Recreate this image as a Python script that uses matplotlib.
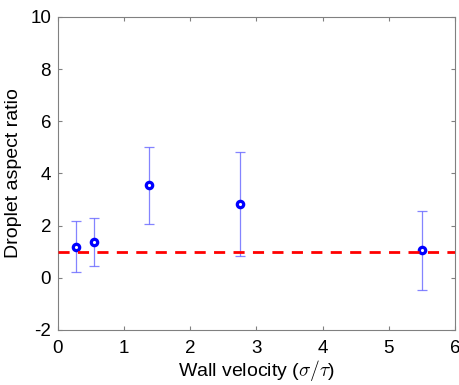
import numpy as np
import matplotlib.pyplot as plt

# wall velocity and droplet aspect ratio
wall_velocity = [0.275, 0.55, 1.375, 2.75, 5.5]
aspect_ratio = [1.19, 1.39, 3.54, 2.83, 1.05]
err_low = [0.21, 0.46, 2.06, 0.84, -0.47]
err_high = [2.17, 2.29, 5.01, 4.81, 2.55]

plt.rcParams['font.family'] = ['Liberation Sans', 'DejaVu Sans']
plt.rcParams['mathtext.fontset'] = 'cm'
plt.rcParams['axes.unicode_minus'] = False

fig = plt.figure(figsize=(4.6, 3.85), dpi=100)
ax = fig.add_axes([0.126, 0.143, 0.863, 0.813])

y = np.array(aspect_ratio)
yerr = [y - np.array(err_low), np.array(err_high) - y]
ax.errorbar(wall_velocity, y, yerr=yerr, fmt='none', ecolor=(0.4, 0.4, 1.0, 0.8),
            elinewidth=0.9, capsize=3.5, capthick=0.9, zorder=2)
ax.plot(wall_velocity, y, 'o', ms=4.6, mfc='white', mec='blue', mew=2.3, zorder=3)
ax.axhline(1, color='red', ls=(0, (4, 3)), lw=2, zorder=4)

ax.set_xlim(0, 6)
ax.set_ylim(-2, 10)
ax.set_xticks(range(0, 7))
ax.set_yticks(range(-2, 11, 2))
ax.tick_params(direction='in', top=True, right=True, labelsize=13.5, length=3,
               color='#808080', width=0.8)
ax.tick_params(axis='x', pad=7)
ax.tick_params(axis='y', pad=5)
for s in ax.spines.values():
    s.set_color('#808080')
    s.set_linewidth(0.8)
ax.set_xlabel(r'Wall velocity ($\sigma/\tau$)', fontsize=14, labelpad=1)
ax.set_ylabel('Droplet aspect ratio', fontsize=14, labelpad=6)

fig.savefig('out.png', dpi=100)
